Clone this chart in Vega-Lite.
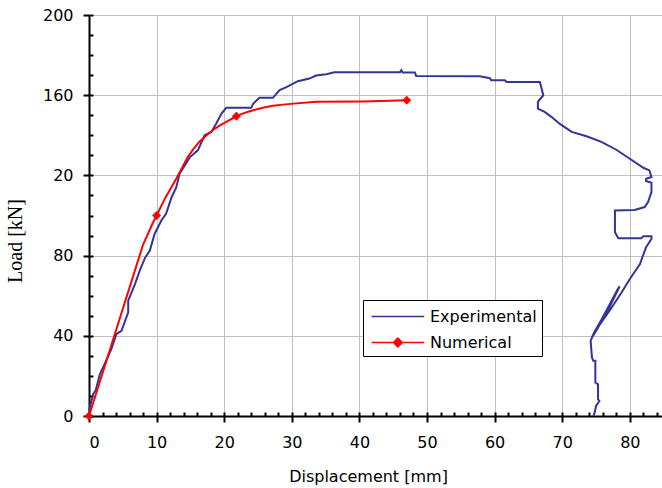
{
  "$schema": "https://vega.github.io/schema/vega-lite/v6.json",
  "width": 573,
  "height": 401,
  "autosize": {"type": "none"},
  "padding": {"left": 89, "top": 15, "right": 0, "bottom": 72},
  "background": "white",
  "config": {
    "view": {"stroke": null},
    "font": "DejaVu Sans"
  },
  "datasets": {
    "experimental": [
      {"i": 1, "disp": 0, "load": 0},
      {"i": 2, "disp": 0.1, "load": 4},
      {"i": 3, "disp": 0.6, "load": 10.8},
      {"i": 4, "disp": 1.0, "load": 13},
      {"i": 5, "disp": 1.6, "load": 20.8},
      {"i": 6, "disp": 2.3, "load": 25.8},
      {"i": 7, "disp": 3.3, "load": 33.3},
      {"i": 8, "disp": 4.05, "load": 40.8},
      {"i": 9, "disp": 4.8, "load": 42.5},
      {"i": 10, "disp": 5.8, "load": 51.7},
      {"i": 11, "disp": 5.8, "load": 57.5},
      {"i": 12, "disp": 6.8, "load": 65.8},
      {"i": 13, "disp": 7.5, "load": 72.5},
      {"i": 14, "disp": 8.3, "load": 79},
      {"i": 15, "disp": 9.0, "load": 82.5},
      {"i": 16, "disp": 9.7, "load": 90.8},
      {"i": 17, "disp": 10.7, "load": 97.5},
      {"i": 18, "disp": 11.4, "load": 100.8},
      {"i": 19, "disp": 12.2, "load": 109},
      {"i": 20, "disp": 12.9, "load": 114},
      {"i": 21, "disp": 13.4, "load": 120.8},
      {"i": 22, "disp": 14.9, "load": 129},
      {"i": 23, "disp": 16.1, "load": 132.5},
      {"i": 24, "disp": 17.1, "load": 140},
      {"i": 25, "disp": 18.1, "load": 141.7},
      {"i": 26, "disp": 18.8, "load": 145.8},
      {"i": 27, "disp": 19.6, "load": 150.8},
      {"i": 28, "disp": 20.3, "load": 153.7},
      {"i": 29, "disp": 24.0, "load": 153.7},
      {"i": 30, "disp": 24.3, "load": 155.8},
      {"i": 31, "disp": 25.2, "load": 158.7},
      {"i": 32, "disp": 27.2, "load": 158.7},
      {"i": 33, "disp": 28.2, "load": 162.5},
      {"i": 34, "disp": 29.2, "load": 164},
      {"i": 35, "disp": 30.9, "load": 167},
      {"i": 36, "disp": 32.6, "load": 168.3},
      {"i": 37, "disp": 33.6, "load": 169.8},
      {"i": 38, "disp": 35.1, "load": 170.5},
      {"i": 39, "disp": 36.3, "load": 171.4},
      {"i": 40, "disp": 46.0, "load": 171.4},
      {"i": 41, "disp": 46.2, "load": 172.5},
      {"i": 42, "disp": 46.4, "load": 171.3},
      {"i": 43, "disp": 48.2, "load": 171.3},
      {"i": 44, "disp": 48.4, "load": 169.6},
      {"i": 45, "disp": 57.8, "load": 169.4},
      {"i": 46, "disp": 59.3, "load": 168.5},
      {"i": 47, "disp": 59.5, "load": 167.4},
      {"i": 48, "disp": 61.5, "load": 167.4},
      {"i": 49, "disp": 61.8, "load": 166.6},
      {"i": 50, "disp": 66.7, "load": 166.6},
      {"i": 51, "disp": 66.9, "load": 164},
      {"i": 52, "disp": 67.2, "load": 160},
      {"i": 53, "disp": 66.4, "load": 156.7},
      {"i": 54, "disp": 66.4, "load": 153.3},
      {"i": 55, "disp": 67.4, "load": 151.7},
      {"i": 56, "disp": 68.4, "load": 149.2},
      {"i": 57, "disp": 69.6, "load": 145.8},
      {"i": 58, "disp": 71.4, "load": 141.7},
      {"i": 59, "disp": 73.6, "load": 139.5},
      {"i": 60, "disp": 75.8, "load": 136.7},
      {"i": 61, "disp": 78.0, "load": 132.8},
      {"i": 62, "disp": 80.0, "load": 128.3},
      {"i": 63, "disp": 82.0, "load": 123.8},
      {"i": 64, "disp": 82.9, "load": 122.5},
      {"i": 65, "disp": 83.2, "load": 119.2},
      {"i": 66, "disp": 82.4, "load": 118.3},
      {"i": 67, "disp": 82.4, "load": 117.2},
      {"i": 68, "disp": 83.2, "load": 116.3},
      {"i": 69, "disp": 83.2, "load": 111.7},
      {"i": 70, "disp": 82.7, "load": 106.7},
      {"i": 71, "disp": 82.2, "load": 104.2},
      {"i": 72, "disp": 80.7, "load": 102.8},
      {"i": 73, "disp": 77.8, "load": 102.5},
      {"i": 74, "disp": 77.8, "load": 91.7},
      {"i": 75, "disp": 78.3, "load": 88.7},
      {"i": 76, "disp": 81.7, "load": 88.7},
      {"i": 77, "disp": 82.0, "load": 89.7},
      {"i": 78, "disp": 83.2, "load": 89.7},
      {"i": 79, "disp": 83.2, "load": 88.3},
      {"i": 80, "disp": 82.4, "load": 84.2},
      {"i": 81, "disp": 81.5, "load": 75.8},
      {"i": 82, "disp": 80.0, "load": 68.3},
      {"i": 83, "disp": 78.8, "load": 61.7},
      {"i": 84, "disp": 77.0, "load": 52.5},
      {"i": 85, "disp": 75.6, "load": 45.8},
      {"i": 86, "disp": 74.6, "load": 40.8},
      {"i": 87, "disp": 74.3, "load": 38.5},
      {"i": 88, "disp": 75.2, "load": 43.5},
      {"i": 89, "disp": 76.5, "load": 51},
      {"i": 90, "disp": 77.6, "load": 58.5},
      {"i": 91, "disp": 78.5, "load": 64.7},
      {"i": 92, "disp": 78.2, "load": 63.2},
      {"i": 93, "disp": 77.0, "load": 55.5},
      {"i": 94, "disp": 75.8, "load": 48},
      {"i": 95, "disp": 74.7, "load": 41.5},
      {"i": 96, "disp": 74.2, "load": 37.5},
      {"i": 97, "disp": 74.4, "load": 29.2},
      {"i": 98, "disp": 74.6, "load": 27.5},
      {"i": 99, "disp": 74.9, "load": 27.5},
      {"i": 100, "disp": 74.9, "load": 16.7},
      {"i": 101, "disp": 75.3, "load": 15.8},
      {"i": 102, "disp": 75.3, "load": 8.3},
      {"i": 103, "disp": 75.5, "load": 7.5},
      {"i": 104, "disp": 75.0, "load": 5},
      {"i": 105, "disp": 74.8, "load": 1.7},
      {"i": 106, "disp": 74.6, "load": 0}
    ],
    "numerical": [
      {"disp": 0, "load": 0},
      {"disp": 8.0, "load": 85.5},
      {"disp": 8.8, "load": 91.5},
      {"disp": 9.4, "load": 96},
      {"disp": 10, "load": 100},
      {"disp": 11.2, "load": 108.3},
      {"disp": 12.0, "load": 113},
      {"disp": 12.9, "load": 118.3},
      {"disp": 13.8, "load": 124},
      {"disp": 14.6, "load": 129.2},
      {"disp": 15.5, "load": 133.3},
      {"disp": 16.3, "load": 136.7},
      {"disp": 17.3, "load": 139.8},
      {"disp": 18.3, "load": 142.5},
      {"disp": 19.3, "load": 144.8},
      {"disp": 20.3, "load": 146.7},
      {"disp": 21.8, "load": 149.5},
      {"disp": 23.0, "load": 151.2},
      {"disp": 24.3, "load": 152.5},
      {"disp": 25.7, "load": 153.7},
      {"disp": 27.2, "load": 154.7},
      {"disp": 28.7, "load": 155.3},
      {"disp": 30.2, "load": 155.8},
      {"disp": 33.6, "load": 156.7},
      {"disp": 40.5, "load": 156.9},
      {"disp": 47, "load": 157.5}
    ],
    "markers": [
      {"disp": 0, "load": 0},
      {"disp": 10, "load": 100},
      {"disp": 21.8, "load": 149.5},
      {"disp": 47, "load": 157.5}
    ]
  },
  "layer": [
    {
      "data": {"name": "experimental"},
      "mark": {"type": "line", "strokeWidth": 2, "clip": false},
      "encoding": {
        "x": {
          "field": "disp", "type": "quantitative",
          "scale": {"domain": [0, 84.76], "nice": false, "zero": false},
          "axis": {
            "orient": "bottom",
            "values": [0, 10, 20, 30, 40, 50, 60, 70, 80],
            "tickSize": 6, "tickWidth": 2, "tickColor": "black",
            "domainColor": "black", "domainWidth": 2,
            "labelFont": "DejaVu Sans", "labelFontSize": 16, "labelColor": "black", "labelPadding": 12,
            "grid": true, "gridColor": "#c0c0c0", "gridWidth": 1,
            "title": "Displacement [mm]",
            "titleFont": "DejaVu Sans", "titleFontSize": 16, "titleFontWeight": "normal", "titleColor": "black",
            "titleX": 279, "titleY": 65.7, "titleBaseline": "alphabetic", "titleAnchor": "middle"
          }
        },
        "y": {
          "field": "load", "type": "quantitative",
          "scale": {"domain": [0, 200], "nice": false},
          "axis": {
            "orient": "left",
            "values": [0, 40, 80, 120, 160, 200],
            "labelExpr": "datum.value === 120 ? '20' : datum.label",
            "tickSize": 6, "tickWidth": 2, "tickColor": "black",
            "domainColor": "black", "domainWidth": 2,
            "labelFont": "DejaVu Sans", "labelFontSize": 16, "labelColor": "black", "labelPadding": 10,
            "grid": true, "gridColor": "#c0c0c0", "gridWidth": 1,
            "title": "Load [kN]",
            "titleFont": "Liberation Serif", "titleFontSize": 20, "titleFontWeight": "normal", "titleColor": "black",
            "titleX": -67.3, "titleY": 225.5, "titleAngle": -90, "titleBaseline": "alphabetic", "titleAnchor": "middle"
          }
        },
        "order": {"field": "i", "type": "quantitative"},
        "color": {
          "datum": "Experimental",
          "type": "nominal",
          "scale": {"domain": ["Experimental", "Numerical"], "range": ["#333399", "#ff0000"]},
          "legend": {
            "title": null,
            "orient": "none",
            "legendX": 274,
            "legendY": 285,
            "symbolType": "M-0.745,0H4.22",
            "symbolSize": 449,
            "symbolStrokeWidth": 1.5,
            "labelFont": "DejaVu Sans",
            "labelFontSize": 16,
            "labelColor": "black",
            "labelOffset": 39,
            "padding": 5,
            "rowPadding": 6,
            "strokeColor": "black",
            "fillColor": "white",
            "encode": {
              "symbols": {
                "update": {
                  "shape": {"signal": "datum.value === 'Numerical' ? 'M-0.745,0H4.22M1.32,0L1.736,-0.42L2.15,0L1.736,0.42Z' : 'M-0.745,0H4.22'"},
                  "fill": {"signal": "datum.value === 'Numerical' ? '#ff0000' : 'transparent'"}
                }
              }
            }
          }
        }
      }
    },
    {
      "data": {"name": "numerical"},
      "mark": {"type": "line", "strokeWidth": 2, "interpolate": "linear", "clip": false},
      "encoding": {
        "x": {
          "field": "disp", "type": "quantitative",
          "axis": {
            "orient": "bottom",
            "values": [0, 2, 4, 6, 8, 10, 12, 14, 16, 18, 20, 22, 24, 26, 28, 30, 32, 34, 36, 38, 40, 42, 44, 46, 48, 50, 52, 54, 56, 58, 60, 62, 64, 66, 68, 70, 72, 74, 76, 78, 80, 82, 84],
            "tickSize": -4, "tickWidth": 2, "tickColor": "black",
            "domain": false, "labels": false, "grid": false, "title": null
          }
        },
        "y": {
          "field": "load", "type": "quantitative",
          "axis": {
            "orient": "left",
            "values": [0, 10, 20, 30, 40, 50, 60, 70, 80, 90, 100, 110, 120, 130, 140, 150, 160, 170, 180, 190, 200],
            "tickSize": -4, "tickWidth": 2, "tickColor": "black",
            "domain": false, "labels": false, "grid": false, "title": null
          }
        },
        "color": {"datum": "Numerical", "type": "nominal"}
      }
    },
    {
      "data": {"name": "markers"},
      "mark": {"type": "point", "shape": "diamond", "filled": true, "size": 80, "color": "#ff0000", "opacity": 1, "clip": false},
      "encoding": {
        "x": {"field": "disp", "type": "quantitative", "axis": null},
        "y": {"field": "load", "type": "quantitative", "axis": null}
      }
    }
  ],
  "resolve": {"axis": {"x": "independent", "y": "independent"}}
}
